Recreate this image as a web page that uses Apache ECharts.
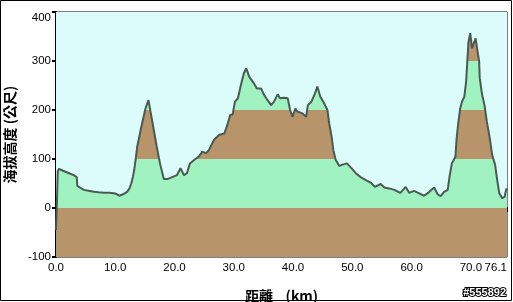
<!DOCTYPE html>
<html>
<head>
<meta charset="utf-8">
<script src="https://cdn.jsdelivr.net/npm/echarts@6/dist/echarts.min.js"></script>
<style>
html,body{margin:0;padding:0;background:#fff;}
#c{width:513px;height:302px;}
</style>
</head>
<body>
<div id="c"></div>
<script>
const distanceKm = [0,0.15,0.3,0.5,1.2,2.2,3.0,3.5,3.6,4.0,4.7,5.5,6.4,7.2,8.1,9.0,9.8,10.3,10.7,11.3,12.0,12.4,12.7,13.0,13.2,13.5,13.7,14.4,15.1,15.6,16.3,17.0,17.6,18.2,18.8,19.6,20.4,21.0,21.6,22.1,22.6,23.3,24.1,24.7,25.3,25.8,26.7,27.5,28.4,28.9,29.4,29.8,30.2,30.7,31.2,31.7,32.1,32.6,33.3,33.9,34.6,35.1,35.7,36.3,36.8,37.4,37.8,38.5,39.1,39.5,39.9,40.4,40.7,41.6,42.2,42.5,43.1,43.7,44.1,44.6,45.1,45.8,46.1,46.5,46.8,47.2,47.8,48.5,49.1,49.8,50.6,51.4,52.3,53.1,53.8,54.8,55.4,56.2,57.1,58.1,59.0,59.6,60.4,61.3,62.1,63.0,63.8,64.4,64.9,65.5,66.1,66.4,66.8,67.4,67.6,67.9,68.2,68.5,68.9,69.2,69.4,69.6,69.9,70.2,70.5,70.8,71.1,71.4,71.5,71.9,72.3,72.7,73.2,73.6,74.1,74.4,74.8,75.3,75.7,76.0,76.1];
const elevationM = [-45,10,75,80,76,71,67,63,45,42,37,35,33,32,31,31,30,28,25,28,33,40,50,65,78,105,125,166,203,220,173,125,88,59,59,63,67,81,67,71,91,98,105,115,112,118,140,149,152,169,190,191,217,224,251,275,285,268,256,244,244,231,220,210,217,232,224,225,224,200,186,203,197,193,186,210,217,234,248,227,217,200,173,146,118,98,86,89,91,82,71,63,57,52,43,49,42,40,37,31,43,31,35,30,25,33,42,28,24,33,37,64,91,105,142,176,203,217,227,258,299,339,357,326,329,346,322,299,265,231,210,176,142,108,88,61,30,20,23,40,35];
const bandEdges = [-100,0,100,200,300,400];
const xTitle = '距離    (km)';
const yTitle = '海拔高度 (公尺)';
const stamp = '#555892';

const BROWN = '#b8946a', GREEN = '#a0f2c0', SKY = '#dcfcfc';
const bands = [];
for (let i = 0; i < bandEdges.length - 1; i++) {
  bands.push([{yAxis: bandEdges[i], itemStyle: {color: i % 2 === 0 ? BROWN : GREEN, opacity: 1}}, {yAxis: bandEdges[i+1]}]);
}
const profile = distanceKm.map((d, i) => [d, elevationM[i]]);

const chart = echarts.init(document.getElementById('c'), null, {renderer: 'canvas'});
const lab = {color: '#000', fontSize: 11.5, fontFamily: 'Liberation Sans, Arial, sans-serif'};
chart.setOption({
  animation: false,
  backgroundColor: '#fff',
  grid: {left: 56, right: 6, top: 12, bottom: 45, containLabel: false, outerBoundsMode: 'none', show: true, backgroundColor: SKY, borderColor: '#000', borderWidth: 1},
  xAxis: {
    type: 'value', min: 0, max: 76.1, interval: 10,
    name: xTitle, nameLocation: 'middle', nameGap: 32,
    nameTextStyle: {color: '#000', fontSize: 14, fontWeight: 'bold', fontFamily: 'Noto Sans CJK TC, sans-serif'},
    axisLine: {show: true, lineStyle: {color: '#000', width: 2}},
    axisTick: {show: true, length: 4, lineStyle: {color: '#000', width: 2}},
    axisLabel: Object.assign({margin: 5, formatter: v => v.toFixed(1), showMaxLabel: true, alignMaxLabel: 'right', hideOverlap: false}, lab),
    splitLine: {show: false}
  },
  yAxis: {
    type: 'value', min: -100, max: 400, interval: 100,
    name: yTitle, nameLocation: 'middle', nameGap: 38, nameRotate: 90,
    nameTextStyle: {color: '#000', fontSize: 14, fontWeight: 'bold', fontFamily: 'Noto Sans CJK TC, sans-serif'},
    axisLine: {show: true, lineStyle: {color: '#000', width: 2}},
    axisTick: {show: true, length: 4, lineStyle: {color: '#000', width: 2}},
    axisLabel: Object.assign({margin: 5, verticalAlignMaxLabel: 'top'}, lab),
    splitLine: {show: false}
  },
  series: [
    {
      type: 'line', z: 1, data: profile, showSymbol: false, silent: true,
      lineStyle: {width: 0, opacity: 0},
      markArea: {silent: true, data: bands}
    },
    {
      type: 'line', z: 3, data: profile, showSymbol: false, symbol: 'none',
      lineStyle: {color: '#4a5a52', width: 2},
      areaStyle: {origin: 'end', color: SKY, opacity: 1}
    }
  ],
  graphic: [
    {type: 'rect', shape: {x: 0.5, y: 0.5, width: 511, height: 300}, style: {fill: 'none', stroke: '#000', lineWidth: 1}, silent: true},
    {type: 'text', right: 6, bottom: 3, style: {text: stamp, fill: '#fff', stroke: '#000', lineWidth: 2, font: 'bold 11px Liberation Sans, Arial, sans-serif'}}
  ]
});
</script>
</body>
</html>
